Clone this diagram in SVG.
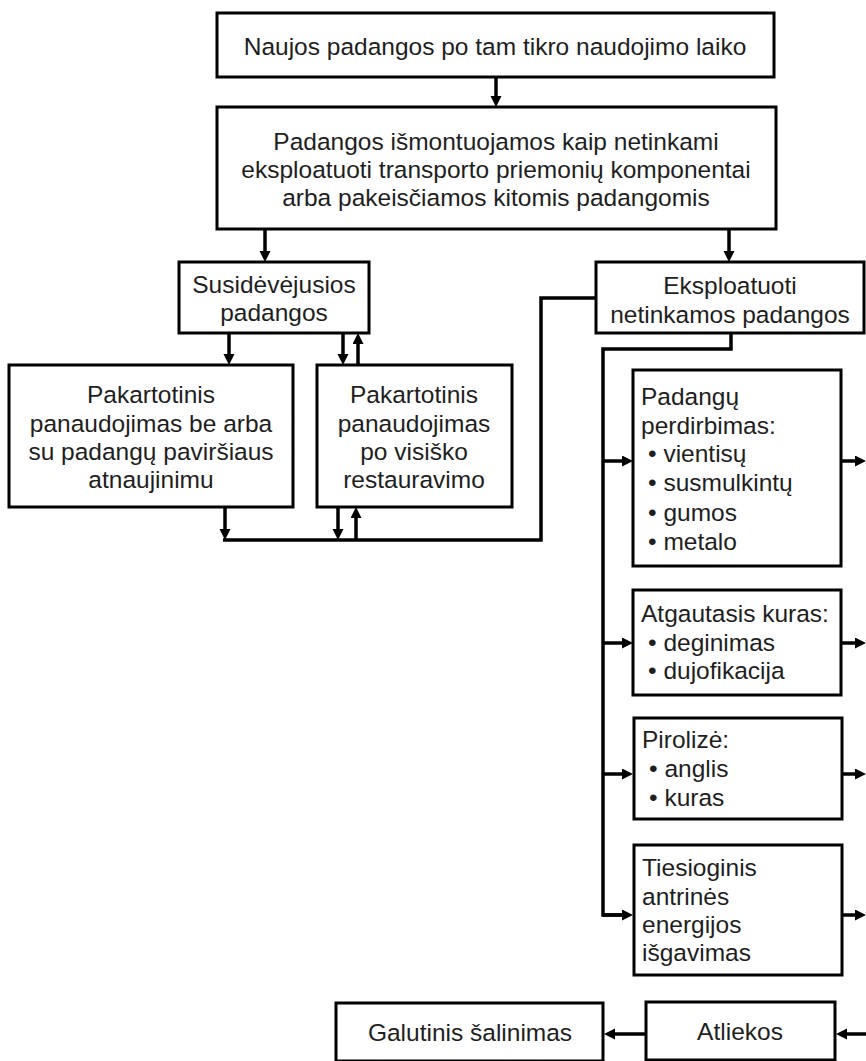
<svg xmlns="http://www.w3.org/2000/svg" width="866" height="1061" viewBox="0 0 866 1061">
<style>
.box{fill:#fff;stroke:#000;stroke-width:3}
.t{font-family:"Liberation Sans",Arial,sans-serif;font-size:24.5px;fill:#1e1e1e}
.c{text-anchor:middle}
.ln{fill:none;stroke:#000;stroke-width:3.5;stroke-linejoin:miter}
.ar{fill:none;stroke:#000;stroke-width:3.5;marker-end:url(#ah)}
</style>
<defs>
<marker id="ah" markerUnits="userSpaceOnUse" markerWidth="12" markerHeight="12" refX="1" refY="5.5" orient="auto">
<path d="M0,0 L11,5.5 L0,11 z" fill="#000"/>
</marker>
</defs>
<rect width="866" height="1061" fill="#fff"/>
<g id="connectors">
<line class="ar" x1="496" y1="76" x2="496" y2="97"/>
<line class="ar" x1="265" y1="229" x2="265" y2="252"/>
<line class="ar" x1="729" y1="229" x2="729" y2="252"/>
<line class="ar" x1="229" y1="333" x2="229" y2="355"/>
<line class="ar" x1="343" y1="333" x2="343" y2="355"/>
<line class="ar" x1="358" y1="365" x2="358" y2="343"/>
<line class="ar" x1="225" y1="507" x2="225" y2="530"/>
<line class="ar" x1="338" y1="507" x2="338" y2="530"/>
<line class="ar" x1="356" y1="540" x2="356" y2="517"/>
<polyline class="ln" points="596,298 541,298 541,540 223,540"/>
<polyline class="ln" points="731,333 731,349 603,349 603,915 623,915"/>
<line class="ar" x1="603" y1="461" x2="623" y2="461"/>
<line class="ar" x1="603" y1="643" x2="623" y2="643"/>
<line class="ar" x1="603" y1="774" x2="623" y2="774"/>
<line class="ar" x1="603" y1="915" x2="623" y2="915"/>
<line class="ar" x1="841" y1="461" x2="856" y2="461"/>
<line class="ar" x1="841" y1="643" x2="856" y2="643"/>
<line class="ar" x1="841" y1="774" x2="856" y2="774"/>
<line class="ar" x1="841" y1="915" x2="856" y2="915"/>
<line class="ar" x1="866" y1="1034" x2="846" y2="1034"/>
<line class="ar" x1="646" y1="1034" x2="614" y2="1034"/>
</g>
<g id="n1">
<rect class="box" x="217" y="13" width="557" height="64"/>
<text class="t c" x="495" y="55">Naujos padangos po tam tikro naudojimo laiko</text>
</g>
<g id="n2">
<rect class="box" x="217" y="107" width="559" height="122"/>
<text class="t c" x="496" y="150">Padangos išmontuojamos kaip netinkami</text>
<text class="t c" x="496" y="178">eksploatuoti transporto priemonių komponentai</text>
<text class="t c" x="496" y="206">arba pakeisčiamos kitomis padangomis</text>
</g>
<g id="n3">
<rect class="box" x="179" y="262" width="190" height="71"/>
<text class="t c" x="274" y="293">Susidėvėjusios</text>
<text class="t c" x="274" y="321">padangos</text>
</g>
<g id="n4">
<rect class="box" x="596" y="262" width="268" height="71"/>
<text class="t c" x="730" y="294">Eksploatuoti</text>
<text class="t c" x="730" y="323">netinkamos padangos</text>
</g>
<g id="n5">
<rect class="box" x="9" y="365" width="284" height="142"/>
<text class="t c" x="151" y="403">Pakartotinis</text>
<text class="t c" x="151" y="432">panaudojimas be arba</text>
<text class="t c" x="151" y="460">su padangų paviršiaus</text>
<text class="t c" x="151" y="488">atnaujinimu</text>
</g>
<g id="n6">
<rect class="box" x="317" y="365" width="195" height="142"/>
<text class="t c" x="414" y="403">Pakartotinis</text>
<text class="t c" x="414" y="432">panaudojimas</text>
<text class="t c" x="414" y="460">po visiško</text>
<text class="t c" x="414" y="488">restauravimo</text>
</g>
<g id="n7">
<rect class="box" x="633" y="370" width="208" height="196"/>
<text class="t" x="641" y="405">Padangų</text>
<text class="t" x="641" y="434">perdirbimas:</text>
<text class="t" x="648" y="462">• vientisų</text>
<text class="t" x="648" y="491">• susmulkintų</text>
<text class="t" x="648" y="521">• gumos</text>
<text class="t" x="648" y="550">• metalo</text>
</g>
<g id="n8">
<rect class="box" x="633" y="590" width="208" height="105"/>
<text class="t" x="641" y="622">Atgautasis kuras:</text>
<text class="t" x="648" y="651">• deginimas</text>
<text class="t" x="648" y="679">• dujofikacija</text>
</g>
<g id="n9">
<rect class="box" x="634" y="718" width="208" height="101"/>
<text class="t" x="642" y="748">Pirolizė:</text>
<text class="t" x="649" y="777">• anglis</text>
<text class="t" x="649" y="806">• kuras</text>
</g>
<g id="n10">
<rect class="box" x="634" y="845" width="208" height="130"/>
<text class="t" x="642" y="876">Tiesioginis</text>
<text class="t" x="642" y="905">antrinės</text>
<text class="t" x="642" y="933">energijos</text>
<text class="t" x="642" y="961">išgavimas</text>
</g>
<g id="n11">
<rect class="box" x="336" y="1003" width="267" height="58"/>
<text class="t c" x="470" y="1041">Galutinis šalinimas</text>
</g>
<g id="n12">
<rect class="box" x="646" y="1002" width="189" height="58"/>
<text class="t c" x="740" y="1040">Atliekos</text>
</g>
</svg>
